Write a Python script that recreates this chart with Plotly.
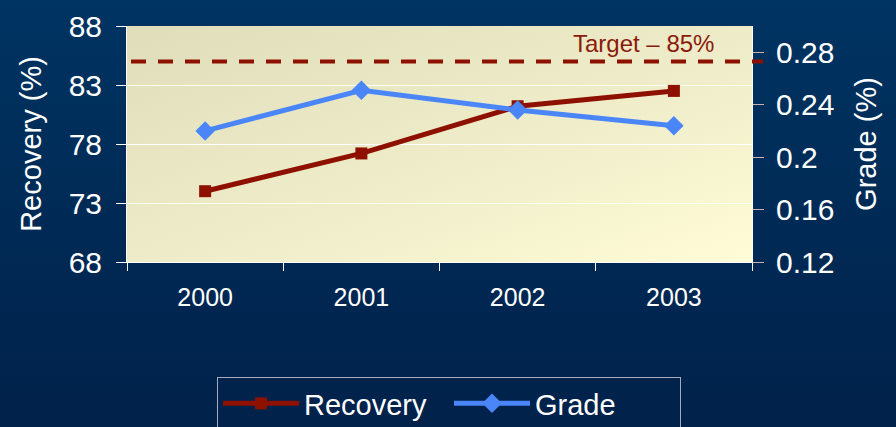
import base64

import plotly.graph_objects as go

years = ["2000", "2001", "2002", "2003"]
recovery = [74.0, 77.2, 81.2, 82.5]
grade = [0.220, 0.251, 0.236, 0.224]
target = 85
target_label = "Target – 85%"

rec_ticks = [68, 73, 78, 83, 88]
grade_ticks = [0.12, 0.16, 0.20, 0.24, 0.28]
grade_ticktext = ["0.12", "0.16", "0.2", "0.24", "0.28"]

W, H = 896, 427
L, R, T, B = 127, 144, 26, 165
pw, ph = W - L - R, H - T - B

FONT = "Arial, Liberation Sans, sans-serif"
RED = "#8E1100"
BLUE = "#4A86F8"


def svg_uri(stops, x2, y2):
    st = "".join('<stop offset="%s" stop-color="%s"/>' % s for s in stops)
    svg = ('<svg xmlns="http://www.w3.org/2000/svg" width="100" height="100" preserveAspectRatio="none">'
           '<defs><linearGradient id="g" x1="0" y1="0" x2="%s" y2="%s">%s</linearGradient></defs>'
           '<rect width="100" height="100" fill="url(#g)"/></svg>') % (x2, y2, st)
    return "data:image/svg+xml;base64," + base64.b64encode(svg.encode()).decode()


page_bg = svg_uri([(0, "#003462"), (1, "#00214A")], 0, 1)
plot_bg = svg_uri([(0, "#E0DDBA"), (0.5, "#EDEBC8"), (1, "#FFFCD7")], 1, 1)

fig = go.Figure()
fig.add_trace(go.Scatter(
    x=years, y=recovery, name="Recovery", mode="lines+markers",
    line=dict(color=RED, width=5),
    marker=dict(symbol="square", size=12, color=RED),
))
fig.add_trace(go.Scatter(
    x=years, y=grade, name="Grade", mode="lines+markers", yaxis="y2",
    line=dict(color=BLUE, width=5),
    marker=dict(symbol="diamond", size=15, color=BLUE),
))

fig.add_shape(type="line", xref="paper", yref="y",
              x0=4 / pw, x1=1 + 11 / pw, y0=target, y1=target,
              line=dict(color=RED, width=4, dash="15px,12px"))
fig.add_annotation(text=target_label, xref="paper", yref="y", x=(643 - L) / pw, y=target,
                   xanchor="center", yanchor="bottom", yshift=2, showarrow=False,
                   font=dict(size=24, color="#8B1A0A"))

fig.update_layout(
    width=W, height=H,
    margin=dict(l=L, r=R, t=T, b=B, autoexpand=False),
    paper_bgcolor="#002B55",
    plot_bgcolor="rgba(0,0,0,0)",
    font=dict(family=FONT, color="white", size=30),
    showlegend=True,
    legend=dict(
        orientation="h", x=(449 - L) / pw, xanchor="center", y=-(377 - T - ph) / ph, yanchor="top",
        bgcolor="rgba(0,0,0,0)", bordercolor="#A3ABBC", borderwidth=1,
        font=dict(size=29, color="white"), itemwidth=76, entrywidth=140,
    ),
    images=[
        dict(source=page_bg, xref="paper", yref="paper", x=-(L + 5) / pw, y=1 + (T + 5) / ph,
             sizex=(W + 10) / pw, sizey=(H + 10) / ph, sizing="stretch", layer="below"),
        dict(source=plot_bg, xref="paper", yref="paper", x=0, y=1,
             sizex=1, sizey=1, sizing="stretch", layer="below"),
    ],
    xaxis=dict(
        type="category", range=[-0.5, len(years) - 0.5], tickson="boundaries",
        ticks="outside", ticklen=8, tickcolor="white", showline=True, linecolor="white",
        linewidth=1, showgrid=False, tickfont=dict(size=25), ticklabelstandoff=13,
        automargin=False,
    ),
    yaxis=dict(
        range=[68, 88], tickvals=rec_ticks, ticks="outside", ticklen=10,
        tickcolor="white", showline=True, linecolor="white", showgrid=True,
        gridcolor="white", gridwidth=1, zeroline=False, ticklabelstandoff=8,
        automargin=False,
        title=dict(text="Recovery (%)", standoff=18, font=dict(size=29)),
    ),
    yaxis2=dict(
        overlaying="y", side="right", range=[0.12, 0.30], tickvals=grade_ticks,
        ticktext=grade_ticktext, ticks="outside", ticklen=11, tickcolor="#C9B3B0",
        showline=True, linecolor="white", showgrid=False, zeroline=False,
        ticklabelstandoff=6, automargin=False,
        title=dict(text="Grade (%)", standoff=22, font=dict(size=29)),
    ),
)

fig.write_html("out.html", config={"displayModeBar": False},
               post_script="document.body.style.margin='0px';")
